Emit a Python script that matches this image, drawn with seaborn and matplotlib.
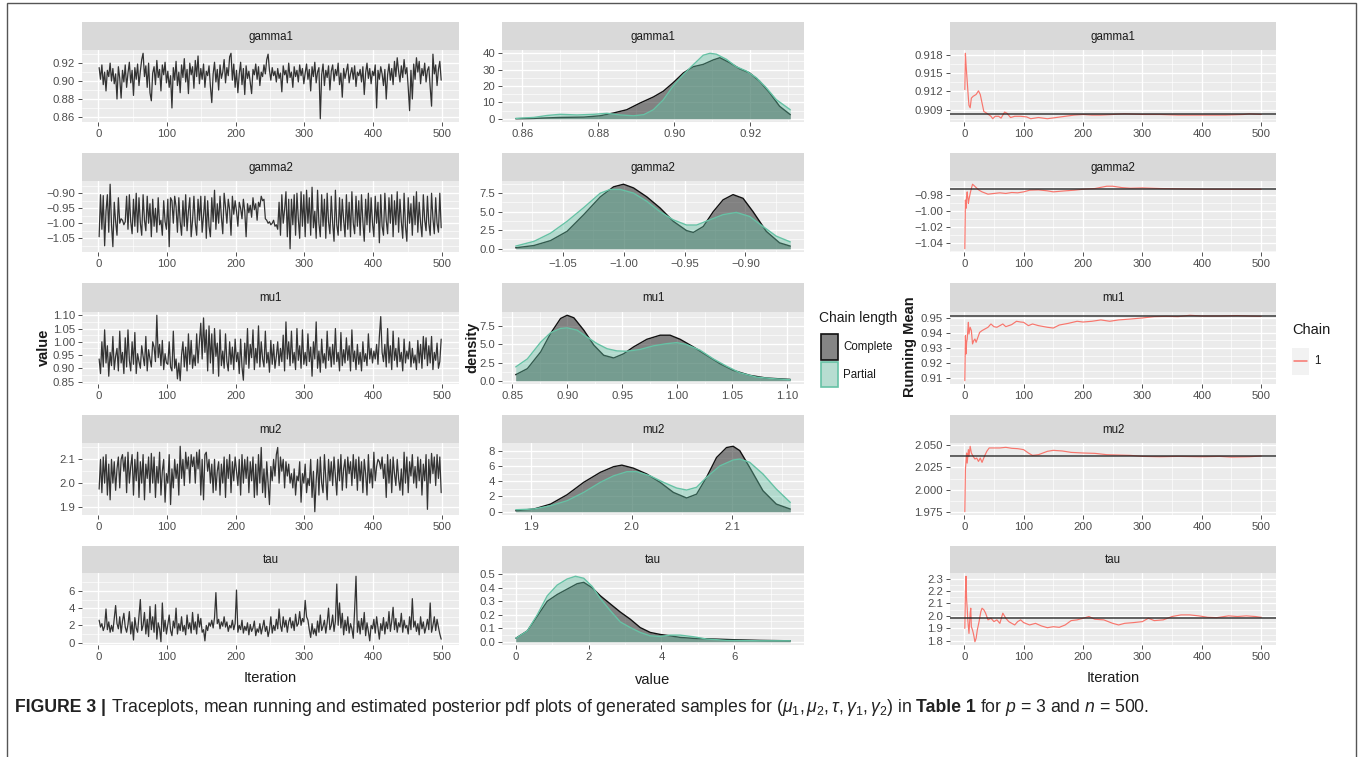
import numpy as np
import pandas as pd
import matplotlib
matplotlib.use("Agg")
import matplotlib.pyplot as plt
import seaborn as sns
from matplotlib.patches import Rectangle
from matplotlib.lines import Line2D

sns.set_theme(style="darkgrid")
FONT = ['Liberation Sans Narrow', 'Liberation Sans', 'DejaVu Sans']
plt.rcParams['font.family'] = FONT
plt.rcParams['mathtext.fontset'] = 'custom'
plt.rcParams['mathtext.rm'] = 'Liberation Sans'
plt.rcParams['mathtext.it'] = 'Liberation Sans:italic'
plt.rcParams['mathtext.bf'] = 'Liberation Sans:bold'

W, H = 1360, 757

# ------------------------------------------------------------------ data
params = ["gamma1", "gamma2", "mu1", "mu2", "tau"]
trace_iter = list(range(1, 500, 2))

trace_gamma1 = [
 0.915,0.902,0.918,0.896,0.910,0.889,0.912,0.905,0.920,0.900,
 0.914,0.897,0.908,0.880,0.916,0.903,0.881,0.912,0.899,0.918,
 0.893,0.909,0.921,0.898,0.912,0.884,0.915,0.902,0.919,0.895,
 0.911,0.924,0.931,0.905,0.917,0.893,0.920,0.887,0.878,0.909,
 0.916,0.896,0.923,0.904,0.913,0.889,0.918,0.907,0.921,0.898,
 0.911,0.893,0.906,0.870,0.915,0.901,0.922,0.895,0.910,0.887,
 0.918,0.904,0.925,0.899,0.913,0.886,0.920,0.907,0.916,0.892,
 0.923,0.905,0.928,0.897,0.914,0.902,0.919,0.893,0.911,0.906,
 0.917,0.894,0.876,0.908,0.921,0.899,0.913,0.890,0.918,0.903,
 0.910,0.924,0.898,0.915,0.906,0.927,0.931,0.901,0.919,0.893,
 0.912,0.887,0.908,0.921,0.896,0.914,0.885,0.917,0.903,0.911,
 0.898,0.886,0.913,0.907,0.919,0.902,0.916,0.895,0.910,0.905,
 0.918,0.908,0.924,0.930,0.912,0.901,0.915,0.906,0.911,0.899,
 0.914,0.903,0.909,0.888,0.917,0.907,0.912,0.898,0.920,0.904,
 0.910,0.893,0.916,0.905,0.912,0.899,0.918,0.906,0.914,0.897,
 0.909,0.919,0.902,0.913,0.889,0.916,0.905,0.921,0.898,0.910,
 0.915,0.858,0.907,0.919,0.895,0.912,0.904,0.917,0.890,0.911,
 0.918,0.900,0.913,0.906,0.920,0.896,0.909,0.882,0.914,0.903,
 0.911,0.919,0.898,0.908,0.915,0.902,0.917,0.894,0.910,0.906,
 0.913,0.899,0.916,0.885,0.909,0.920,0.903,0.914,0.897,0.911,
 0.906,0.918,0.870,0.912,0.902,0.916,0.908,0.895,0.913,0.880,
 0.907,0.919,0.901,0.914,0.896,0.922,0.905,0.926,0.911,0.899,
 0.917,0.904,0.924,0.908,0.915,0.893,0.867,0.912,0.880,0.919,
 0.902,0.926,0.910,0.922,0.897,0.914,0.906,0.920,0.899,0.912,
 0.916,0.893,0.872,0.930,0.908,0.918,0.895,0.913,0.922,0.901]

trace_gamma2 = [
 -1.045,-0.905,-1.020,-0.908,-1.075,-0.960,-0.905,-1.030,-0.870,-1.005,
 -1.078,-0.930,-0.995,-1.040,-0.915,-1.000,-0.985,-0.990,-1.005,-0.995,
 -0.910,-1.020,-0.905,-0.995,-1.035,-0.920,-1.010,-0.900,-1.030,-0.915,
 -1.000,-1.040,-0.905,-0.990,-1.025,-0.910,-1.000,-0.935,-1.045,-0.920,
 -1.010,-0.950,-1.030,-0.915,-1.005,-0.990,-1.040,-0.925,-0.995,-1.020,
 -0.920,-1.078,-0.915,-0.925,-1.000,-0.910,-0.945,-1.030,-0.915,-0.995,
 -1.040,-0.925,-1.010,-0.905,-1.025,-0.960,-0.915,-1.045,-0.990,-0.910,
 -1.000,-1.040,-0.920,-0.990,-0.910,-1.030,-0.975,-0.910,-1.050,-0.925,
 -1.010,-1.045,-0.915,-0.995,-0.890,-1.020,-0.935,-1.000,-0.910,-0.980,
 -1.035,-0.900,-0.945,-1.000,-0.920,-0.955,-1.040,-0.910,-0.970,-0.925,
 -0.960,-1.010,-0.930,-0.950,-0.985,-0.920,-0.960,-1.045,-0.935,-0.965,
 -0.940,-0.980,-0.915,-0.955,-0.935,-0.990,-0.930,-0.945,-0.910,-0.925,
 -0.920,-0.985,-0.990,-1.000,-0.995,-1.005,-1.000,-0.990,-1.010,-1.005,
 -1.020,-0.930,-1.040,-0.905,-1.000,-0.955,-0.895,-1.045,-0.920,-1.085,
 -0.920,-1.005,-0.905,-1.040,-0.900,-0.985,-1.050,-0.895,-1.010,-0.905,
 -1.045,-0.890,-1.000,-0.915,-1.040,-0.880,-1.015,-0.960,-1.050,-0.890,
 -1.000,-1.045,-0.905,-1.010,-0.920,-1.050,-0.900,-0.995,-1.035,-0.910,
 -1.000,-1.060,-0.890,-1.005,-1.040,-0.915,-1.025,-0.920,-0.990,-1.045,
 -0.905,-1.020,-0.930,-1.045,-0.895,-1.000,-1.035,-0.910,-1.010,-0.925,
 -1.040,-0.905,-0.995,-1.060,-0.920,-1.005,-0.900,-1.030,-0.915,-1.000,
 -1.045,-0.910,-1.000,-0.930,-1.065,-0.905,-1.010,-1.040,-0.900,-0.990,
 -1.035,-0.915,-1.000,-0.905,-1.045,-0.925,-1.005,-0.895,-1.030,-0.920,
 -0.995,-1.050,-0.900,-1.010,-1.060,-0.915,-1.000,-0.935,-1.040,-0.910,
 -1.005,-0.895,-1.030,-0.930,-1.000,-1.045,-0.905,-0.990,-1.025,-0.910,
 -1.000,-1.040,-0.900,-0.985,-1.035,-0.915,-1.000,-1.030,-0.900,-1.015]

trace_mu1 = [
 0.935,0.880,1.000,0.905,1.045,0.920,0.985,0.870,0.960,0.910,
 1.020,0.895,0.945,0.975,0.890,1.040,0.920,0.960,0.880,1.015,
 0.905,1.045,0.930,0.890,1.000,0.915,1.035,0.880,0.955,0.925,
 0.900,0.985,0.945,0.910,1.020,0.890,0.970,0.935,0.905,1.000,
 0.980,0.925,1.100,0.940,0.990,0.910,1.005,0.895,0.955,0.920,
 0.915,1.000,0.905,0.890,1.040,0.900,0.935,0.860,0.920,0.853,
 0.950,1.000,0.905,0.980,0.890,1.030,0.915,1.005,0.900,0.950,
 0.910,1.030,0.920,1.000,1.070,0.935,1.090,0.960,1.045,0.890,
 1.060,0.920,1.030,0.880,1.050,0.945,0.995,0.870,1.045,0.910,
 0.965,0.900,1.030,0.925,0.890,1.000,0.915,0.980,0.895,1.010,
 0.925,0.960,0.880,1.010,0.905,0.855,0.995,0.915,1.050,0.900,
 0.990,0.940,1.045,0.895,0.975,0.920,1.060,0.905,1.000,0.935,
 0.905,1.040,0.920,0.960,0.885,1.005,0.915,0.990,0.900,0.945,
 1.000,0.910,0.975,0.925,1.025,0.890,1.075,0.935,1.000,0.910,
 1.040,0.920,0.960,0.895,1.050,0.930,0.985,0.900,1.045,0.915,
 0.960,0.910,1.030,0.925,0.980,0.870,1.000,0.935,1.075,0.900,
 0.965,0.885,1.010,0.920,0.955,0.900,1.040,0.930,0.980,0.905,
 0.990,0.915,1.050,0.925,0.960,0.890,1.035,0.910,0.970,0.920,
 1.015,0.930,0.985,0.890,1.045,0.925,0.965,0.895,0.990,0.915,
 0.960,0.890,1.000,0.925,0.955,0.910,1.030,0.935,0.975,0.920,
 0.965,0.935,0.990,0.915,1.020,1.095,0.960,0.925,0.990,0.905,
 1.050,0.920,0.985,0.895,1.040,0.930,0.975,0.905,1.015,0.925,
 0.960,0.890,1.010,0.920,0.965,0.935,1.000,0.905,0.975,0.920,
 0.950,0.895,1.005,0.920,0.990,0.900,1.020,0.935,1.015,0.910,
 0.985,0.920,1.020,0.895,0.960,0.930,0.995,0.900,0.925,1.010]

trace_mu2 = [
 1.975,2.100,1.960,2.110,2.000,2.120,1.950,2.080,1.930,2.100,
 2.000,2.090,1.970,2.060,2.110,1.980,2.100,2.120,2.050,2.110,
 1.960,2.130,2.000,2.070,2.120,1.950,2.100,2.010,2.130,1.940,
 2.090,2.000,2.120,1.930,2.080,2.020,2.110,1.960,2.125,2.000,
 2.110,1.940,2.070,2.000,2.130,1.950,2.050,2.100,1.920,2.040,
 2.000,2.120,1.910,2.060,1.980,2.100,2.020,2.080,1.950,2.155,
 2.020,2.100,1.990,2.130,2.060,2.110,2.000,2.120,2.070,2.110,
 2.000,2.130,2.060,2.140,1.950,2.100,1.930,2.120,2.130,2.050,
 2.100,2.000,2.080,1.960,2.100,1.970,2.050,2.090,1.950,2.080,
 2.000,2.110,1.940,2.100,2.020,2.120,1.960,2.090,2.010,2.110,
 2.050,1.990,2.100,1.950,2.120,2.000,2.100,2.020,2.110,1.960,
 2.090,2.010,2.110,1.940,2.080,1.950,2.120,2.000,2.150,1.960,
 2.060,1.940,2.090,2.000,1.910,2.070,2.010,2.100,2.030,2.120,
 2.150,2.000,2.110,2.050,2.100,1.980,2.090,2.030,2.080,2.000,
 2.040,1.980,2.060,1.950,2.030,2.010,2.090,1.920,2.040,2.000,
 2.080,1.960,2.020,1.990,2.100,1.940,2.050,1.880,2.010,2.100,
 1.950,2.110,2.000,1.960,2.120,2.020,1.930,2.100,2.010,2.090,
 1.990,2.110,2.030,1.950,2.100,2.010,2.120,1.970,2.060,2.100,
 1.980,2.110,2.040,2.090,1.990,2.120,2.020,2.100,1.970,2.110,
 2.010,2.090,1.960,2.100,2.040,1.950,2.120,2.000,2.060,1.980,
 2.130,2.010,2.070,2.100,2.090,2.060,2.110,2.020,2.080,1.940,
 2.120,2.000,2.100,1.960,2.110,2.040,1.990,2.100,2.020,1.970,
 2.060,1.950,2.130,2.000,2.110,1.960,2.090,2.030,2.120,2.000,
 2.070,1.980,2.110,2.010,2.100,1.950,2.080,2.010,2.120,1.890,
 2.100,2.000,2.125,2.040,2.110,1.990,2.120,2.020,2.110,1.960]

trace_tau = [
 2.6,1.8,2.2,1.4,1.9,3.9,1.5,2.4,1.2,2.0,
 1.3,2.8,4.3,2.2,1.6,3.0,1.1,2.5,3.4,1.8,
 1.2,2.1,3.6,1.0,2.4,0.3,2.9,1.7,1.2,3.1,
 5.0,1.4,2.0,3.5,1.0,2.7,0.7,4.2,1.5,3.0,
 1.2,4.4,0.4,2.3,1.6,0.1,4.6,1.3,2.6,1.0,
 2.1,3.2,1.4,0.8,2.5,1.7,4.0,1.0,2.2,1.4,
 3.0,1.3,2.0,0.9,3.2,1.6,2.3,1.1,3.5,1.5,
 2.4,1.0,3.3,1.8,2.8,1.2,1.5,0.2,2.0,1.4,
 2.3,1.9,2.6,1.7,2.9,5.8,2.2,2.7,1.6,2.4,
 1.9,3.0,1.8,2.4,1.3,2.0,1.7,2.6,1.5,2.2,
 6.1,1.2,2.0,1.5,2.6,1.1,1.9,1.4,2.3,0.9,
 2.1,1.3,1.7,2.5,0.8,1.6,1.2,2.2,1.0,1.8,
 2.6,1.3,1.9,0.7,1.5,3.0,1.1,2.0,1.4,2.7,
 1.6,3.9,2.0,1.3,3.0,1.8,2.6,1.2,2.4,2.9,
 1.7,2.5,1.4,3.3,1.9,2.2,3.6,2.0,2.8,2.4,
 4.9,3.0,2.6,1.5,0.6,2.2,1.0,1.6,0.8,2.5,
 1.2,3.2,1.4,1.9,2.6,1.1,2.3,4.0,1.5,2.0,
 3.2,1.3,2.5,6.8,2.0,4.6,1.7,3.4,0.9,2.6,
 1.4,3.0,1.1,2.2,1.6,0.5,3.8,7.7,1.2,2.5,
 1.0,2.8,1.5,3.5,0.8,2.3,1.3,0.2,2.0,1.6,
 2.7,1.1,3.0,1.7,0.4,2.2,1.4,2.9,1.0,2.4,
 1.6,3.6,1.3,2.5,4.1,1.5,2.8,1.2,2.3,1.8,
 3.4,1.2,2.6,1.7,2.0,1.0,3.0,1.5,5.1,1.8,
 2.5,1.3,2.2,0.9,3.0,1.6,2.4,1.1,1.8,2.7,
 1.5,4.6,1.2,2.0,3.0,1.4,2.7,1.8,1.0,0.4]

# estimated posterior densities (Complete / Partial chain)
dens_gamma1_cx = [0.8583,0.8631,0.8700,0.8762,0.8805,0.8840,0.8875,0.8910,0.8945,0.8971,0.8997,0.9024,0.9050,0.9076,0.9102,0.9120,0.9146,0.9172,0.9198,0.9224,0.9251,0.9277,0.9305]
dens_gamma1_cy = [0.0,0.2,0.8,1.0,1.8,3.5,5.5,9.6,13.3,16.8,22.0,28.0,31.8,33.2,35.9,37.3,34.2,30.5,28.0,23.0,15.8,7.6,2.5]
dens_gamma1_px = [0.8583,0.8631,0.8666,0.8700,0.8744,0.8788,0.8823,0.8858,0.8893,0.8920,0.8945,0.8971,0.8997,0.9024,0.9050,0.9076,0.9094,0.9111,0.9137,0.9163,0.9190,0.9216,0.9242,0.9268,0.9305]
dens_gamma1_py = [0.2,0.8,2.0,2.7,2.3,2.7,3.3,2.3,1.8,2.5,5.5,11.5,20.0,27.0,33.0,38.8,40.0,39.4,36.3,31.8,29.1,25.0,18.9,11.7,5.5]

dens_gamma2_cx = [-1.0887,-1.0737,-1.0601,-1.0465,-1.0328,-1.0192,-1.0083,-1.0001,-0.9919,-0.9810,-0.9701,-0.9592,-0.9483,-0.9428,-0.9346,-0.9264,-0.9183,-0.9101,-0.9019,-0.8937,-0.8828,-0.8719,-0.8631]
dens_gamma2_cy = [0.13,0.44,1.1,2.35,4.6,7.0,8.35,8.7,8.2,7.0,5.5,3.7,2.45,2.2,3.0,5.0,6.6,7.3,6.8,5.0,2.35,0.8,0.36]
dens_gamma2_px = [-1.0887,-1.0737,-1.0601,-1.0465,-1.0328,-1.0192,-1.0110,-1.0028,-0.9919,-0.9810,-0.9701,-0.9592,-0.9483,-0.9401,-0.9292,-0.9183,-0.9074,-0.8964,-0.8855,-0.8746,-0.8631]
dens_gamma2_py = [0.36,1.0,2.1,3.7,5.55,7.5,8.0,8.0,7.5,6.4,5.0,3.9,3.2,3.2,3.9,4.6,4.9,4.35,3.0,1.7,0.93]

dens_mu1_cx = [0.8530,0.8636,0.8757,0.8847,0.8938,0.8998,0.9059,0.9149,0.9240,0.9330,0.9421,0.9511,0.9602,0.9723,0.9844,0.9934,1.0025,1.0146,1.0266,1.0387,1.0508,1.0659,1.0810,1.1027]
dens_mu1_cy = [0.83,1.66,3.96,6.5,8.56,9.0,8.65,6.95,4.9,3.5,3.13,3.7,4.65,5.7,6.26,6.26,5.7,4.65,3.5,2.35,1.43,0.74,0.37,0.18]
dens_mu1_px = [0.8530,0.8636,0.8757,0.8847,0.8938,0.8998,0.9089,0.9179,0.9270,0.9361,0.9451,0.9542,0.9662,0.9783,0.9904,0.9995,1.0085,1.0206,1.0327,1.0447,1.0568,1.0719,1.0870,1.1027]
dens_mu1_py = [1.9,3.0,5.3,6.6,7.2,7.27,6.95,6.0,5.1,4.4,4.1,4.05,4.3,4.8,5.1,5.24,4.97,4.2,3.0,2.0,1.1,0.5,0.28,0.14]

dens_mu2_cx = [1.8845,1.9026,1.9192,1.9357,1.9522,1.9688,1.9820,1.9902,2.0018,2.0150,2.0283,2.0415,2.0547,2.0646,2.0745,2.0845,2.0944,2.1010,2.1076,2.1175,2.1307,2.1440,2.1579]
dens_mu2_cy = [0.13,0.35,1.0,2.23,3.85,5.16,5.9,6.1,5.7,4.94,3.85,2.53,1.8,2.3,4.5,7.1,8.4,8.57,8.0,5.8,2.75,1.0,0.35]
dens_mu2_px = [1.8845,1.9026,1.9192,1.9357,1.9522,1.9688,1.9820,1.9952,2.0051,2.0183,2.0316,2.0448,2.0547,2.0646,2.0745,2.0878,2.1010,2.1076,2.1175,2.1307,2.1440,2.1579]
dens_mu2_py = [0.26,0.35,0.79,1.44,2.53,3.85,4.7,5.24,5.24,4.7,3.85,3.1,2.84,3.2,4.5,6.0,6.77,6.9,6.47,4.94,2.97,1.22]

dens_tau_cx = [0.0,0.319,0.593,0.866,1.139,1.413,1.686,1.869,2.097,2.325,2.598,2.871,3.145,3.418,3.692,3.965,4.239,4.512,4.877,5.424,5.971,6.700,7.539]
dens_tau_cy = [0.025,0.08,0.19,0.30,0.35,0.39,0.43,0.44,0.40,0.34,0.28,0.22,0.167,0.105,0.069,0.054,0.044,0.032,0.025,0.02,0.015,0.01,0.007]
dens_tau_px = [0.0,0.319,0.593,0.866,1.139,1.413,1.641,1.869,2.097,2.325,2.598,2.871,3.145,3.418,3.692,3.965,4.239,4.512,4.877,5.242,5.789,6.700,7.539]
dens_tau_py = [0.025,0.08,0.20,0.34,0.42,0.465,0.485,0.47,0.41,0.32,0.23,0.147,0.105,0.069,0.044,0.039,0.049,0.049,0.037,0.02,0.01,0.007,0.007]

# running means
run_gamma1_it = [1,2,3,4,5,7,8,10,12,15,20,24,27,30,33,38,45,48,52,58,62,68,72,78,85,95,105,112,125,140,155,170,185,200,215,230,250,270,300,330,360,400,440,470,480,500]
run_gamma1 = [0.9123,0.9183,0.9165,0.9151,0.9137,0.9109,0.9097,0.9093,0.9109,0.9112,0.9115,0.9121,0.9115,0.9101,0.9087,0.9084,0.9079,0.9075,0.9079,0.9079,0.9076,0.9086,0.9084,0.9077,0.9079,0.9079,0.9078,0.9075,0.9077,0.9075,0.9077,0.9079,0.9081,0.9082,0.9081,0.9081,0.9082,0.9083,0.9082,0.9082,0.9081,0.9081,0.9081,0.9082,0.9083,0.9082]
run_gamma2_it = [1,2,3,4,5,7,8,10,12,14,16,20,25,30,40,50,60,70,80,90,100,110,125,140,150,170,185,200,220,240,250,265,280,300,330,360,400,450,500]
run_gamma2 = [-1.0474,-0.9862,-0.9966,-0.9821,-0.9759,-0.9903,-0.9854,-0.9779,-0.9717,-0.9663,-0.9676,-0.9705,-0.9738,-0.9759,-0.9788,-0.9779,-0.9771,-0.9779,-0.9767,-0.9771,-0.9759,-0.9738,-0.9734,-0.9746,-0.9759,-0.9746,-0.9738,-0.9726,-0.9717,-0.9688,-0.9688,-0.9705,-0.9713,-0.9709,-0.9717,-0.9721,-0.9726,-0.9726,-0.9726]
run_mu1_it = [1,2,3,4,5,6,7,8,10,12,14,16,18,20,23,26,30,35,40,45,50,55,60,65,70,80,88,95,100,108,115,125,140,150,160,175,190,200,215,230,245,260,280,300,320,340,360,380,400,430,460,480,500]
run_mu1 = [0.9082,0.9382,0.9260,0.9338,0.9360,0.9416,0.9471,0.9393,0.9438,0.9416,0.9327,0.9349,0.9360,0.9338,0.9371,0.9404,0.9416,0.9427,0.9438,0.9460,0.9442,0.9438,0.9449,0.9460,0.9442,0.9456,0.9478,0.9473,0.9471,0.9449,0.9460,0.9449,0.9438,0.9433,0.9453,0.9464,0.9478,0.9473,0.9478,0.9487,0.9478,0.9487,0.9493,0.9500,0.9509,0.9511,0.9509,0.9518,0.9513,0.9513,0.9516,0.9513,0.9511]
run_mu2_it = [1,2,3,4,5,7,8,10,12,15,18,21,24,27,30,34,38,42,50,60,70,80,90,100,108,115,125,140,150,165,180,200,220,240,260,280,300,330,360,400,430,450,480,500]
run_mu2 = [1.975,2.0223,2.0318,2.0413,2.0299,2.0451,2.0375,2.0489,2.0413,2.0375,2.0345,2.0356,2.0318,2.0356,2.0307,2.0375,2.0432,2.0470,2.0470,2.0470,2.0477,2.0466,2.0462,2.0451,2.0413,2.0386,2.0394,2.0432,2.0443,2.0436,2.0420,2.0413,2.0409,2.0394,2.0390,2.0386,2.0375,2.0371,2.0375,2.0371,2.0375,2.0367,2.0371,2.0379]
run_tau_it = [1,2,3,4,5,6,8,10,11,12,14,16,18,20,22,25,28,30,33,36,40,45,50,55,60,65,70,75,80,85,90,95,100,110,120,130,140,150,160,170,180,190,200,210,220,235,250,260,270,285,300,310,320,335,350,365,380,395,410,425,445,460,475,490,500]
run_tau = [1.900,2.184,2.319,2.130,2.062,1.968,1.859,2.022,2.062,1.913,1.886,1.846,1.792,1.819,1.886,1.954,2.035,2.062,2.049,2.022,1.968,1.981,1.954,1.968,1.940,2.022,1.981,1.954,1.940,1.927,1.954,1.968,1.946,1.927,1.940,1.919,1.905,1.913,1.908,1.927,1.962,1.968,1.981,1.995,1.973,1.968,1.940,1.927,1.940,1.946,1.954,1.981,1.962,1.968,1.995,2.008,2.008,2.000,1.989,1.986,2.000,1.995,2.000,1.995,1.989]
run_final = [0.9082, -0.9726, 0.9511, 2.0383, 1.986]

# tick definitions
trace_yticks = [[0.86, 0.88, 0.90, 0.92], [-1.05, -1.00, -0.95, -0.90],
                [0.85, 0.90, 0.95, 1.00, 1.05, 1.10], [1.9, 2.0, 2.1], [0, 2, 4, 6]]
trace_ylabels = [["0.86", "0.88", "0.90", "0.92"], ["\u22121.05", "\u22121.00", "\u22120.95", "\u22120.90"],
                 ["0.85", "0.90", "0.95", "1.00", "1.05", "1.10"], ["1.9", "2.0", "2.1"], ["0", "2", "4", "6"]]
dens_xticks = [[0.86, 0.88, 0.90, 0.92], [-1.05, -1.00, -0.95, -0.90],
               [0.85, 0.90, 0.95, 1.00, 1.05, 1.10], [1.9, 2.0, 2.1], [0, 2, 4, 6]]
dens_xlabels = trace_ylabels
dens_yticks = [[0, 10, 20, 30, 40], [0.0, 2.5, 5.0, 7.5], [0.0, 2.5, 5.0, 7.5], [0, 2, 4, 6, 8],
               [0.0, 0.1, 0.2, 0.3, 0.4, 0.5]]
dens_ylabels = [["0", "10", "20", "30", "40"], ["0.0", "2.5", "5.0", "7.5"], ["0.0", "2.5", "5.0", "7.5"],
                ["0", "2", "4", "6", "8"], ["0.0", "0.1", "0.2", "0.3", "0.4", "0.5"]]
run_yticks = [[0.909, 0.912, 0.915, 0.918], [-1.04, -1.02, -1.00, -0.98],
              [0.91, 0.92, 0.93, 0.94, 0.95], [1.975, 2.000, 2.025, 2.050], [1.8, 1.9, 2.0, 2.1, 2.2, 2.3]]
run_ylabels = [["0.909", "0.912", "0.915", "0.918"], ["\u22121.04", "\u22121.02", "\u22121.00", "\u22120.98"],
               ["0.91", "0.92", "0.93", "0.94", "0.95"], ["1.975", "2.000", "2.025", "2.050"],
               ["1.8", "1.9", "2.0", "2.1", "2.2", "2.3"]]
iter_ticks = [0, 100, 200, 300, 400, 500]
iter_labels = ["0", "100", "200", "300", "400", "500"]

traces = [trace_gamma1, trace_gamma2, trace_mu1, trace_mu2, trace_tau]
dens = [(dens_gamma1_cx, dens_gamma1_cy, dens_gamma1_px, dens_gamma1_py),
        (dens_gamma2_cx, dens_gamma2_cy, dens_gamma2_px, dens_gamma2_py),
        (dens_mu1_cx, dens_mu1_cy, dens_mu1_px, dens_mu1_py),
        (dens_mu2_cx, dens_mu2_cy, dens_mu2_px, dens_mu2_py),
        (dens_tau_cx, dens_tau_cy, dens_tau_px, dens_tau_py)]
runs = [(run_gamma1_it, run_gamma1), (run_gamma2_it, run_gamma2), (run_mu1_it, run_mu1),
        (run_mu2_it, run_mu2), (run_tau_it, run_tau)]

# ------------------------------------------------------------------ style
BG = '#EBEBEB'
STRIP = '#D9D9D9'
TXT = '#1A1A1A'
TICKTXT = '#4D4D4D'
C_COMPLETE_FILL = (0.0, 0.0, 0.0, 0.45)
C_PARTIAL = '#66C2A5'
C_RUN = '#F8766D'
TICKSIZE = 8.2

fig = plt.figure(figsize=(W / 100, H / 100), dpi=100)
fig.patch.set_facecolor('white')


def box(x0, y0, x1, y1):
    return [x0 / W, 1 - y1 / H, (x1 - x0) / W, (y1 - y0) / H]


def fx(x):
    return x / W


def fy(y):
    return 1 - y / H


def expand(lo, hi, f=0.05):
    r = hi - lo
    return lo - f * r, hi + f * r


def minors(ticks, lim):
    step = ticks[1] - ticks[0]
    cand = [t - step / 2 for t in ticks] + [ticks[-1] + step / 2]
    return [c for c in cand if lim[0] <= c <= lim[1]]


def style(ax, xt, xl, xlim, yt, yl, ylim):
    ax.set_facecolor(BG)
    for s in ax.spines.values():
        s.set_visible(False)
    ax.set_xlim(*xlim)
    ax.set_ylim(*ylim)
    ax.set_xticks(xt)
    ax.set_xticklabels(xl)
    ax.set_yticks(yt)
    ax.set_yticklabels(yl)
    ax.set_xticks(minors(xt, xlim), minor=True)
    ax.set_yticks(minors(yt, ylim), minor=True)
    ax.grid(which='major', color='white', lw=0.95)
    ax.grid(which='minor', color='white', lw=0.45)
    ax.set_axisbelow(True)
    ax.tick_params(which='major', length=3, width=0.6, color='#333333',
                   labelsize=TICKSIZE, labelcolor=TICKTXT, pad=2, bottom=True, left=True)
    ax.tick_params(which='minor', length=0)
    ax.set_xlabel('')
    ax.set_ylabel('')


def strip(x0, x1, y0, y1, label):
    a = fig.add_axes(box(x0, y0, x1, y1))
    a.set_facecolor(STRIP)
    a.set_xticks([])
    a.set_yticks([])
    for s in a.spines.values():
        s.set_visible(False)
    a.text(0.5, 0.47, label, ha='center', va='center', fontsize=8.3, color=TXT,
           transform=a.transAxes)


COL_T = (82, 459)
COL_D = (502, 804)
COL_R = (950, 1276)
ROWS = [(22, 50, 122), (153, 181, 252), (283, 312, 384), (415, 443, 515), (546, 573, 645)]

for i, p in enumerate(params):
    st, pt, pb = ROWS[i]

    # --- traceplot
    strip(COL_T[0], COL_T[1], st, pt, p)
    ax = fig.add_axes(box(COL_T[0], pt, COL_T[1], pb))
    df = pd.DataFrame({'Iteration': trace_iter, 'value': traces[i]})
    sns.lineplot(data=df, x='Iteration', y='value', ax=ax, color='#333333',
                 lw=0.9, estimator=None, legend=False)
    ylim = expand(min(traces[i]), max(traces[i]))
    style(ax, iter_ticks, iter_labels, expand(1, 500), trace_yticks[i], trace_ylabels[i], ylim)

    # --- density
    strip(COL_D[0], COL_D[1], st, pt, p)
    ax = fig.add_axes(box(COL_D[0], pt, COL_D[1], pb))
    cx, cy, px_, py_ = dens[i]
    ax.fill_between(cx, 0, cy, color=C_COMPLETE_FILL, lw=0, zorder=2)
    sns.lineplot(x=cx, y=cy, ax=ax, color='#111111', lw=1.0, estimator=None, zorder=3)
    ax.fill_between(px_, 0, py_, color=C_PARTIAL, alpha=0.42, lw=0, zorder=4)
    sns.lineplot(x=px_, y=py_, ax=ax, color=C_PARTIAL, lw=1.0, estimator=None, zorder=5)
    xlim = expand(min(cx + px_), max(cx + px_))
    ymax = max(cy + py_)
    style(ax, dens_xticks[i], dens_xlabels[i], xlim, dens_yticks[i], dens_ylabels[i],
          (-0.05 * ymax, 1.05 * ymax))

    # --- running mean
    strip(COL_R[0], COL_R[1], st, pt, p)
    ax = fig.add_axes(box(COL_R[0], pt, COL_R[1], pb))
    it, rv = runs[i]
    dfr = pd.DataFrame({'Iteration': it, 'Running Mean': rv})
    sns.lineplot(data=dfr, x='Iteration', y='Running Mean', ax=ax, color=C_RUN,
                 lw=0.85, estimator=None, legend=False, zorder=3)
    ax.axhline(run_final[i], color='#222222', alpha=0.75, lw=1.3, zorder=4)
    style(ax, iter_ticks, iter_labels, expand(1, 500), run_yticks[i], run_ylabels[i],
          expand(min(rv), max(rv)))

# axis titles
fig.text(fx(270), fy(678), 'Iteration', ha='center', va='center', fontsize=10.5, color=TXT)
fig.text(fx(653), fy(680), 'value', ha='center', va='center', fontsize=10.5, color=TXT)
fig.text(fx(1113), fy(678), 'Iteration', ha='center', va='center', fontsize=10.5, color=TXT)
fig.text(fx(44), fy(347), 'value', ha='center', va='center', rotation=90, fontsize=10.5,
         color=TXT, fontweight='bold')
fig.text(fx(472), fy(347), 'density', ha='center', va='center', rotation=90, fontsize=10.5,
         color=TXT, fontweight='bold')
fig.text(fx(910), fy(347), 'Running Mean', ha='center', va='center', rotation=90, fontsize=10.5,
         color=TXT, fontweight='bold')

# legend: Chain length
fig.text(fx(819), fy(318), 'Chain length', ha='left', va='center', fontsize=10, color=TXT)
fig.add_artist(Rectangle((fx(821), fy(360)), (838 - 821) / W, (360 - 334) / H,
                         transform=fig.transFigure, facecolor='#F2F2F2', edgecolor='none'))
fig.add_artist(Rectangle((fx(821), fy(360)), (838 - 821) / W, (360 - 334) / H,
                         transform=fig.transFigure, facecolor=C_COMPLETE_FILL,
                         edgecolor='#111111', lw=1.2))
fig.add_artist(Rectangle((fx(821), fy(387)), (838 - 821) / W, (387 - 362) / H,
                         transform=fig.transFigure, facecolor='#F2F2F2', edgecolor='none'))
fig.add_artist(Rectangle((fx(821), fy(387)), (838 - 821) / W, (387 - 362) / H,
                         transform=fig.transFigure, facecolor=(0.4, 0.76, 0.647, 0.42),
                         edgecolor=C_PARTIAL, lw=1.2))
fig.text(fx(843), fy(347), 'Complete', ha='left', va='center', fontsize=8.3, color=TXT)
fig.text(fx(843), fy(375), 'Partial', ha='left', va='center', fontsize=8.3, color=TXT)

# legend: Chain
fig.text(fx(1292), fy(330), 'Chain', ha='left', va='center', fontsize=10.5, color=TXT)
fig.add_artist(Rectangle((fx(1292), fy(375)), (1309 - 1292) / W, (375 - 348) / H,
                         transform=fig.transFigure, facecolor='#F2F2F2', edgecolor='none'))
fig.add_artist(Line2D([fx(1294), fx(1307)], [fy(361), fy(361)], transform=fig.transFigure,
                      color=C_RUN, lw=1.1))
fig.text(fx(1314), fy(361), '1', ha='left', va='center', fontsize=8.3, color=TXT)

# outer frame
fig.add_artist(Rectangle((fx(7), -0.05), (1356 - 7) / W, fy(3) + 0.05, transform=fig.transFigure,
                         facecolor='none', edgecolor='#555555', lw=1.0))

# caption
fig.canvas.draw()
renderer = fig.canvas.get_renderer()
cap_pieces = [("FIGURE 3 |", 'bold', 5),
              ("Traceplots, mean running and estimated posterior pdf plots of generated samples for "
               r"$(\mu_1, \mu_2, \tau, \gamma_1, \gamma_2)$ in", 'normal', 4),
              ("Table 1", 'bold', 4),
              ("for $p$ = 3 and $n$ = 500.", 'normal', 0)]
xcur = 15
for txt, wt, gap in cap_pieces:
    t = fig.text(fx(xcur), fy(708), txt, ha='left', va='center', fontsize=12.7,
                 fontweight=wt, color='#222222')
    bb = t.get_window_extent(renderer)
    xcur += bb.width + gap

fig.savefig('out.png', dpi=100, facecolor='white')
